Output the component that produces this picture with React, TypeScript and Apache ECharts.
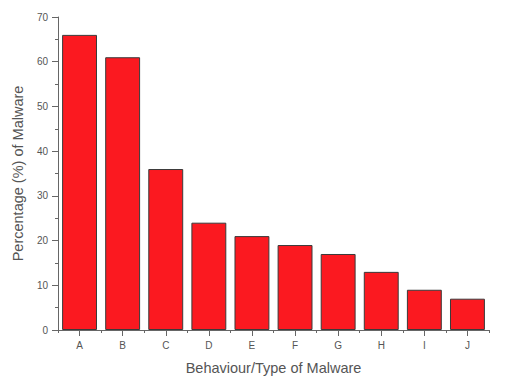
import React, { useEffect, useRef } from "react";
import * as echarts from "echarts";

const categories = ["A", "B", "C", "D", "E", "F", "G", "H", "I", "J"];
const percentages = [66, 61, 36, 24, 21, 19, 17, 13, 9, 7];
const xTitle = "Behaviour/Type of Malware";
const yTitle = "Percentage (%) of Malware";

export default function App() {
  const ref = useRef<HTMLDivElement>(null);
  useEffect(() => {
    if (!ref.current) return;
    const chart = echarts.init(ref.current, null, { renderer: "svg" });
    const textColor = "#555";
    const lineColor = "#666";
    chart.setOption({
      animation: false,
      backgroundColor: "#fff",
      grid: { left: 58, right: 33, top: 17, bottom: 48, containLabel: false },
      xAxis: [
        {
          type: "category",
          data: categories,
          name: xTitle,
          nameLocation: "middle",
          nameGap: 30,
          nameTextStyle: { color: textColor, fontSize: 14.5, fontFamily: "Liberation Sans" },
          axisLine: { lineStyle: { color: lineColor, width: 1 } },
          axisTick: { show: true, alignWithLabel: true, length: 6, inside: false, lineStyle: { color: lineColor } },
          axisLabel: { color: textColor, fontSize: 10, margin: 10, fontFamily: "Liberation Sans" },
          splitLine: { show: false },
        },
        {
          type: "category",
          data: categories,
          position: "bottom",
          axisLine: { show: false },
          axisTick: { show: true, alignWithLabel: false, length: 3, lineStyle: { color: lineColor } },
          axisLabel: { show: false },
          splitLine: { show: false },
        },
      ],
      yAxis: {
        type: "value",
        min: 0,
        max: 70,
        interval: 10,
        name: yTitle,
        nameLocation: "middle",
        nameGap: 31,
        nameTextStyle: { color: textColor, fontSize: 14.5, fontFamily: "Liberation Sans" },
        axisLine: { show: true, lineStyle: { color: lineColor, width: 1 } },
        axisTick: { show: true, length: 6, lineStyle: { color: lineColor } },
        minorTick: { show: true, splitNumber: 2, length: 3, lineStyle: { color: lineColor } },
        axisLabel: { color: textColor, fontSize: 10, margin: 10, fontFamily: "Liberation Sans" },
        splitLine: { show: false },
      },
      series: [
        {
          type: "bar",
          data: percentages,
          barCategoryGap: "19%",
          itemStyle: { color: "#fb1920", borderColor: "#3a3a3a", borderWidth: 1 },
        },
      ],
    });
    return () => chart.dispose();
  }, []);
  return <div ref={ref} style={{ width: 522, height: 380, position: "absolute", left: 0, top: 0 }} />;
}
